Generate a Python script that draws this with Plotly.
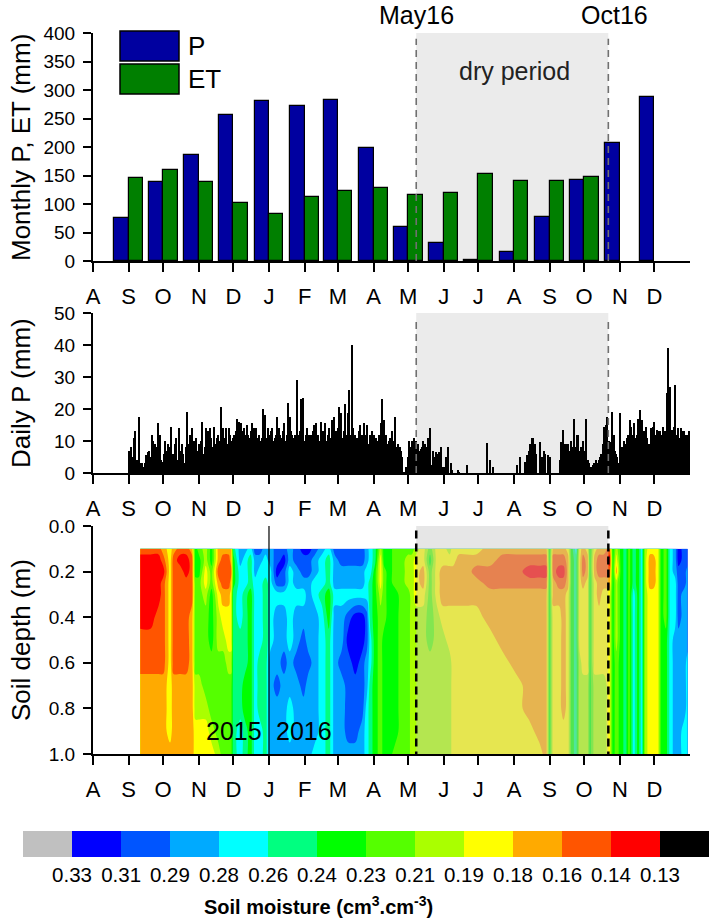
import plotly.graph_objects as go
import pandas as pd

FONT = "Liberation Sans, Arial, sans-serif"
W, H = 714, 923

# ---------------- data ----------------
month_tick_dates = ["2015-08-01", "2015-09-01", "2015-10-01", "2015-11-01", "2015-12-01",
                    "2016-01-01", "2016-02-01", "2016-03-01", "2016-04-01", "2016-05-01",
                    "2016-06-01", "2016-07-01", "2016-08-01", "2016-09-01", "2016-10-01",
                    "2016-11-01", "2016-12-01"]
month_tick_labels = ["A", "S", "O", "N", "D", "J", "F", "M", "A", "M", "J", "J", "A", "S", "O", "N", "D"]

bar_months = ["2015-09-01", "2015-10-01", "2015-11-01", "2015-12-01", "2016-01-01", "2016-02-01",
              "2016-03-01", "2016-04-01", "2016-05-01", "2016-06-01", "2016-07-01", "2016-08-01",
              "2016-09-01", "2016-10-01", "2016-11-01", "2016-12-01"]
monthly_p = [76, 139, 186, 257, 281, 272, 283, 198, 59, 32, 2, 15, 78, 142, 207, 287]
monthly_et = [146, 160, 139, 102, 83, 113, 122, 128, 115, 119, 153, 141, 140, 147, None, None]

daily_start = "2015-09-01"
p_2015_09 = [7, 3, 8, 5, 4, 11, 13, 4, 2, 17.5, 3, 1, 3, 2, 3, 5.5, 4, 6.6, 7, 5, 12, 10, 4, 9, 8, 3, 15.5, 12, 4, 3.5]
p_2015_10 = [3.5, 6, 10, 7, 9, 5, 8, 14.4, 5, 6, 9, 11, 4, 2.4, 14, 7, 9, 6, 3, 2, 8, 19, 9, 12, 10, 14, 8, 10, 6, 11, 7]
p_2015_11 = [9, 7, 10, 16, 6, 8, 14, 10, 13, 9, 14, 11, 8, 14.5, 5, 9, 11, 12, 10, 20.7, 12, 14, 10, 11, 14, 9, 14, 12, 7, 10]
p_2015_12 = [11, 12, 13, 17, 12, 16, 11, 15.5, 13, 14, 12, 10, 15, 12, 11, 13, 15.5, 11, 14, 12, 14, 11, 12, 10, 3, 11, 20, 12, 18, 11, 14]
p_2016_01 = [12, 11, 13, 14, 10, 11, 12, 17.5, 11, 14, 12, 11, 13, 15.5, 10, 3, 12, 22, 17.5, 13, 12, 10, 11, 12, 29, 12, 10, 13, 23, 12, 23.3]
p_2016_02 = [10, 12, 14, 11, 12, 9, 12, 13, 15, 11, 15.5, 12, 12, 10, 16, 11, 13, 12, 15.5, 10, 12, 14, 11, 10, 16.5, 12, 17.5, 13, 11]
p_2016_03 = [14, 20.7, 12, 18.6, 11, 13, 21.7, 12, 10, 18.6, 26, 12, 40, 14, 11, 12, 10, 11, 13, 15, 10, 12, 11, 15.5, 12, 15, 9, 8, 12, 11, 13]
p_2016_04 = [12, 10, 11, 9, 10, 12, 15.5, 23, 11, 16.5, 10, 12, 9, 10, 11, 8, 13, 7, 10, 17.5, 8, 9, 6.6, 8, 7, 5, 0.3, 0, 2, 0]
p_2016_05 = [5, 10, 8, 10, 9, 11, 8, 10, 9, 9, 7, 7.6, 8, 10, 6, 9, 8, 11, 10, 14, 2.4, 0, 7, 5, 6.6, 4, 6, 6.6, 3, 8, 2]
p_2016_06 = [2, 0, 5, 1, 8, 0, 3, 1, 0, 0, 0, 0, 1, 0.3, 0, 0, 0, 0, 0, 0, 2.4, 0, 0, 0, 0, 0, 0, 0, 0, 0]
p_2016_07 = [0, 0, 0, 0, 0, 0, 0, 0, 9.4, 0, 4, 0, 0, 2, 0, 0, 0, 0, 0, 0, 0, 0, 0, 0, 0, 0, 0, 0, 0, 0, 0]
p_2016_08 = [0, 0, 0, 2.4, 0, 5, 0, 0, 0, 0, 3.4, 5.5, 0, 7, 9, 0, 11, 11, 9, 6, 0, 0, 0, 9.7, 5, 0, 7, 6, 0, 0, 5.5]
p_2016_09 = [5, 0, 0, 0, 0, 0, 0, 0, 0, 4, 9.7, 6, 13.4, 9, 7, 9, 9, 6, 7, 10, 8, 17, 8, 5, 12, 12, 7, 8, 8, 10]
p_2016_10 = [5, 7, 17, 4, 3, 1.4, 2, 2, 2.4, 3, 4, 2, 3, 4, 5, 6, 9, 14.4, 11, 15, 17.5, 8, 10, 9.7, 19, 9, 12, 7, 6, 5, 3]
p_2016_11 = [18.6, 3, 8, 6, 10, 9, 11, 12, 10, 16.5, 14.4, 12, 15.5, 10, 11, 12, 17, 12, 19.6, 16.5, 11, 13, 12, 14.4, 11, 9, 5, 14, 12, 14.4]
p_2016_12 = [16, 12, 13.4, 13, 11, 13, 12, 10, 14.4, 13, 11, 25, 39, 12, 27, 13.4, 11, 14.4, 27.5, 10, 12, 14, 11, 14, 12, 13, 13, 11, 12, 12, 13]

dry_start = "2016-05-08"
dry_end = "2016-10-22"

soil_depths = [0.10, 0.15, 0.20, 0.25, 0.30, 0.40, 0.50, 0.60, 0.70, 0.80, 0.90, 1.00]
# representative soil moisture of each colour band (cm3/cm3), band codes
soil_band_moisture = {"0": 0.340, "1": 0.322, "2": 0.305, "3": 0.288, "4": 0.272, "5": 0.255,
                      "6": 0.238, "7": 0.222, "8": 0.205, "9": 0.188, "A": 0.172, "B": 0.155,
                      "C": 0.138, "D": 0.120}
soil_dates = [
    "2015-09-11", "2015-09-20", "2015-09-27", "2015-10-01", "2015-10-07", "2015-10-10", "2015-10-16",
    "2015-10-21", "2015-10-26", "2015-10-29", "2015-11-01", "2015-11-07", "2015-11-12", "2015-11-18",
    "2015-11-22", "2015-11-27", "2015-11-29", "2015-12-01", "2015-12-07", "2015-12-11", "2015-12-16",
    "2015-12-20", "2015-12-24", "2015-12-29", "2016-01-02", "2016-01-08", "2016-01-14", "2016-01-19",
    "2016-01-25", "2016-01-31", "2016-02-04", "2016-02-10", "2016-02-16", "2016-02-22", "2016-02-27",
    "2016-03-04", "2016-03-10", "2016-03-16", "2016-03-22", "2016-03-26", "2016-03-29", "2016-04-02",
    "2016-04-07", "2016-04-10", "2016-04-14", "2016-04-20", "2016-04-25", "2016-05-01", "2016-05-04",
    "2016-05-08", "2016-05-14", "2016-05-20", "2016-05-26", "2016-05-31", "2016-06-06", "2016-06-09",
    "2016-06-14", "2016-06-21", "2016-06-29", "2016-07-11", "2016-07-22", "2016-08-03", "2016-08-14",
    "2016-08-23", "2016-08-29", "2016-09-01", "2016-09-04", "2016-09-09", "2016-09-13", "2016-09-17",
    "2016-09-20", "2016-09-24", "2016-09-27", "2016-09-30", "2016-10-04", "2016-10-06", "2016-10-10",
    "2016-10-14", "2016-10-18", "2016-10-23", "2016-10-26", "2016-10-29", "2016-11-02", "2016-11-06",
    "2016-11-09", "2016-11-13", "2016-11-17", "2016-11-20", "2016-11-23", "2016-11-27", "2016-11-30",
    "2016-12-04", "2016-12-07", "2016-12-11", "2016-12-15", "2016-12-19", "2016-12-22", "2016-12-27",
    "2016-12-30"]
soil_profiles = [
    "BCCCCCBBAAAA", "BCCCCCBBAAAA", "BCCCCBBBAAAA", "ABCBBBBBAAAA", "99999999999A", "ABBBBBBBAAAA", "BCBBBBBBAAAA",
    "BCCBBBBBAAAA", "ABBBBAAAAAAA", "666777778899", "766777778899", "889987777899", "667766677789", "AABA98877778",
    "ABBBA9877777", "ABBBA9987777", "AABA99987777", "566655555555", "334444555544", "344455556655", "455566666666",
    "233444444444", "234444455544", "344555555555", "334444433333", "221243332333", "212243323333", "334444433443",
    "223343323333", "122343222333", "122333323333", "233443333334", "344454444444", "455566555555", "233343333333",
    "223343323333", "223342122223", "223341112223", "223341122233", "334442233444", "444555445555", "556666666666",
    "899987777777", "667777666666", "666666666666", "777766666667", "777777777777", "788877777777", "788888888888",
    "899998888888", "99AA98888888", "767777788888", "999998888888", "99AAA9888888", "89AAA9988888", "99AAA9999999",
    "9AAAA9999999", "9AAAA9999999", "9ABAA9999999", "AABBAA999999", "ABBBAAA99999", "ABBBAAAA9999", "ABCBAAAAAA99",
    "ABCBAAAAAAA9", "ABCBAAAAAAAA", "666666666666", "ABBAA9999999", "ABCBA9999999", "ABCBAAAAAA99", "9AAA99999999",
    "666666666666", "455555555555", "999999988888", "ABBA99998888", "9AA999998888", "666666666666", "9AA999998888",
    "ABBAA9998888", "ABBA99998888", "BCBA99999999", "666666666666", "89A888877777", "666666666666", "555555555555",
    "777777777777", "555544444444", "666666666666", "444444444444", "888888888888", "9AAA99999999", "9AAA99999999",
    "999999999999", "666666666666", "777777666666", "444444444444", "333444333333", "112222333333", "222233333344",
    "223333344444"]

moisture_labels = ["0.33", "0.31", "0.29", "0.28", "0.26", "0.24", "0.23", "0.21", "0.19", "0.18", "0.16", "0.14", "0.13"]
moisture_levels = [0.33, 0.3133, 0.2967, 0.28, 0.2633, 0.2467, 0.23, 0.2133, 0.1967, 0.18, 0.1633, 0.1467, 0.13]
band_colors = ["#c0c0c0", "#0000ff", "#0055ff", "#00aaff", "#00ffff", "#00ff80", "#00ff00",
               "#55ff00", "#aaff00", "#ffff00", "#ffaa00", "#ff5500", "#ff0000", "#000000"]

# ---------------- derived ----------------
daily_p = (p_2015_09 + p_2015_10 + p_2015_11 + p_2015_12 + p_2016_01 + p_2016_02 + p_2016_03 + p_2016_04 +
           p_2016_05 + p_2016_06 + p_2016_07 + p_2016_08 + p_2016_09 + p_2016_10 + p_2016_11 + p_2016_12)
daily_dates = pd.date_range(daily_start, periods=len(daily_p), freq="D")

# z = -moisture so that the colour bar runs wet (left) to dry (right)
soil_z = [[-soil_band_moisture[prof[i]] for prof in soil_profiles] for i in range(len(soil_depths))]

DAY = 86400000.0
n_b = len(band_colors)
contour_scale = [[k / (n_b - 1), c] for k, c in enumerate(band_colors)]
step_scale = []
for k, c in enumerate(band_colors):
    step_scale.append([k / n_b, c])
    step_scale.append([(k + 1) / n_b, c])
lev_size = (moisture_levels[0] - moisture_levels[-1]) / (len(moisture_levels) - 1)


def px_x(p):
    return p / W


def px_y(p):
    return 1 - p / H


XDOM = [px_x(93), px_x(690)]
Y1 = [px_y(261), px_y(33)]
Y2 = [px_y(473), px_y(313)]
Y3 = [px_y(754), px_y(526)]
XRANGE = ["2015-08-01", "2017-01-01"]

fig = go.Figure()
fig.add_trace(go.Bar(x=bar_months, y=monthly_p, width=12.5 * DAY, offset=-12.5 * DAY,
                     marker=dict(color="#0000a0", line=dict(color="black", width=1.2)),
                     name="P", showlegend=False, xaxis="x", yaxis="y"))
fig.add_trace(go.Bar(x=bar_months, y=monthly_et, width=12.5 * DAY, offset=0,
                     marker=dict(color="#007f00", line=dict(color="black", width=1.2)),
                     name="ET", showlegend=False, xaxis="x", yaxis="y"))
fig.add_trace(go.Bar(x=daily_dates, y=daily_p, width=DAY,
                     marker=dict(color="black", line=dict(width=0)),
                     showlegend=False, xaxis="x2", yaxis="y2"))
fig.add_trace(go.Contour(x=soil_dates, y=soil_depths, z=soil_z,
                         autocontour=False,
                         contours=dict(coloring="fill", showlines=False,
                                       start=-moisture_levels[0], end=-moisture_levels[-1], size=lev_size),
                         line=dict(width=0), colorscale=contour_scale, showscale=False,
                         xaxis="x3", yaxis="y3"))
fig.add_trace(go.Scatter(x=[None], y=[None], mode="markers", showlegend=False, hoverinfo="skip",
                         marker=dict(color=[-0.2], colorscale=step_scale,
                                     cmin=-moisture_levels[0] - lev_size, cmax=-moisture_levels[-1] + lev_size,
                                     showscale=True,
                                     colorbar=dict(orientation="h", x=px_x(366), xanchor="center",
                                                   y=px_y(831), yanchor="top", len=686 / W, lenmode="fraction",
                                                   thickness=26, thicknessmode="pixels", outlinewidth=0,
                                                   xpad=0, ypad=0,
                                                   tickmode="array", tickvals=[-v for v in moisture_levels],
                                                   ticktext=moisture_labels, ticks="outside", ticklen=1,
                                                   tickcolor="rgba(0,0,0,0)",
                                                   tickfont=dict(family=FONT, size=20.5, color="black"))),
                         xaxis="x3", yaxis="y3"))

xcommon = dict(range=XRANGE, domain=XDOM, type="date", tickmode="array", tickvals=month_tick_dates,
               ticktext=month_tick_labels, showline=True, linecolor="black", linewidth=2,
               ticks="outside", ticklen=9, tickwidth=2, tickcolor="black", showgrid=False, zeroline=False,
               tickfont=dict(family=FONT, size=22, color="black"), ticklabelstandoff=6, fixedrange=True)
ycommon = dict(showline=True, linecolor="black", linewidth=2, ticks="outside", ticklen=8, tickwidth=2,
               tickcolor="black", showgrid=False, zeroline=False, ticklabelstandoff=4,
               tickfont=dict(family=FONT, size=19, color="black"))

fig.update_layout(
    width=W, height=H, margin=dict(l=0, r=0, t=0, b=0, autoexpand=False),
    paper_bgcolor="white", plot_bgcolor="rgba(0,0,0,0)", barmode="overlay", bargap=0,
    font=dict(family=FONT, color="black"),
    xaxis=dict(xcommon, anchor="y"),
    xaxis2=dict(xcommon, anchor="y2"),
    xaxis3=dict(xcommon, anchor="y3"),
    yaxis=dict(ycommon, domain=Y1, anchor="x", range=[0, 400], tickmode="linear", tick0=0, dtick=50),
    yaxis2=dict(ycommon, domain=Y2, anchor="x2", range=[0, 50], tickmode="linear", tick0=0, dtick=10),
    yaxis3=dict(ycommon, domain=Y3, anchor="x3", range=[1.0, 0.0], tickmode="linear", tick0=0, dtick=0.2,
                tickformat=".1f"),
)

shapes = [
    dict(type="rect", xref="x", yref="y", x0=dry_start, x1=dry_end, y0=0, y1=400,
         fillcolor="#ebebeb", line=dict(width=0), layer="below"),
    dict(type="rect", xref="x2", yref="y2", x0=dry_start, x1=dry_end, y0=0, y1=50,
         fillcolor="#ebebeb", line=dict(width=0), layer="below"),
    dict(type="rect", xref="x3", yref="y3", x0=dry_start, x1=dry_end, y0=0, y1=1,
         fillcolor="rgba(195,195,195,0.41)", line=dict(width=0), layer="above"),
    dict(type="line", xref="x3", yref="y3", x0="2016-01-01", x1="2016-01-01", y0=0, y1=1,
         line=dict(color="black", width=1.2)),
]
for d in (dry_start, dry_end):
    shapes.append(dict(type="line", xref="x", yref="y", x0=d, x1=d, y0=0, y1=390,
                       line=dict(color="#707070", width=1.6, dash="7px,5px"), layer="above"))
    shapes.append(dict(type="line", xref="x2", yref="y2", x0=d, x1=d, y0=0, y1=48,
                       line=dict(color="#707070", width=1.6, dash="7px,5px"), layer="above"))
    shapes.append(dict(type="line", xref="x3", yref="y3", x0=d, x1=d, y0=0.02, y1=1,
                       line=dict(color="black", width=2.5, dash="8px,5px"), layer="above"))
# legend swatches
shapes.append(dict(type="rect", xref="paper", yref="paper", x0=px_x(120), x1=px_x(179), y0=px_y(61), y1=px_y(31),
                   fillcolor="#0000a0", line=dict(color="black", width=1.5)))
shapes.append(dict(type="rect", xref="paper", yref="paper", x0=px_x(120), x1=px_x(179), y0=px_y(94), y1=px_y(64),
                   fillcolor="#007f00", line=dict(color="black", width=1.5)))

ann = [
    dict(text="P", xref="paper", yref="paper", x=px_x(186), y=px_y(46), xanchor="left", yanchor="middle",
         showarrow=False, font=dict(size=26)),
    dict(text="ET", xref="paper", yref="paper", x=px_x(186), y=px_y(79), xanchor="left", yanchor="middle",
         showarrow=False, font=dict(size=26)),
    dict(text="May16", xref="x", yref="paper", x=dry_start, y=px_y(15), xanchor="center", yanchor="middle",
         showarrow=False, font=dict(size=25)),
    dict(text="Oct16", xref="x", yref="paper", x=dry_end, y=px_y(15), xanchor="center", yanchor="middle",
         xshift=6, showarrow=False, font=dict(size=25)),
    dict(text="dry period", xref="x", yref="y", x="2016-08-01", y=333, xanchor="center", yanchor="middle",
         showarrow=False, font=dict(size=25, color="#222222")),
    dict(text="Monthly P, ET (mm)", xref="paper", yref="paper", x=px_x(21), y=px_y(148), textangle=-90,
         xanchor="center", yanchor="middle", showarrow=False, font=dict(size=26)),
    dict(text="Daily P (mm)", xref="paper", yref="paper", x=px_x(21), y=px_y(393), textangle=-90,
         xanchor="center", yanchor="middle", showarrow=False, font=dict(size=26)),
    dict(text="Soil depth (m)", xref="paper", yref="paper", x=px_x(21), y=px_y(640), textangle=-90,
         xanchor="center", yanchor="middle", showarrow=False, font=dict(size=26)),
    dict(text="2015", xref="x3", yref="y3", x="2016-01-01", y=0.9, xanchor="right", yanchor="middle",
         xshift=-5, showarrow=False, font=dict(size=25)),
    dict(text="2016", xref="x3", yref="y3", x="2016-01-01", y=0.9, xanchor="left", yanchor="middle",
         xshift=5, showarrow=False, font=dict(size=25)),
    dict(text="<b>Soil moisture (cm<sup>3</sup>.cm<sup>-3</sup>)</b>", xref="paper", yref="paper",
         x=px_x(318), y=px_y(905), xanchor="center", yanchor="middle", showarrow=False, font=dict(size=20)),
]
fig.update_layout(shapes=shapes, annotations=ann)

fig.write_html("out.html", config={"displayModeBar": False},
               post_script="document.body.style.margin='0';document.body.style.overflow='hidden';")
